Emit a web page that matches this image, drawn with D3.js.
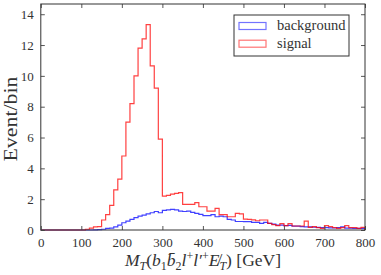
<!DOCTYPE html>
<html><head><meta charset="utf-8">
<script src="https://cdn.jsdelivr.net/npm/d3@7"></script>
<style>
html,body{margin:0;padding:0;background:#fff;}
svg{display:block;}
</style></head>
<body>
<svg id="chart" width="381" height="275"></svg>
<script>
// Histogram bins: 10 GeV wide, 0..800 GeV
const binEdges = d3.range(0, 801, 10);
const seriesNames = ["background", "signal"];
const background = [
  0,0,0,0,0,0,0,0,0,0,0,0,0,
  0.01,0.03,0.05,0.10,0.12,0.20,0.32,0.47,0.58,0.69,0.80,0.90,0.97,1.04,1.12,1.20,1.12,
  1.27,1.30,1.34,1.30,1.23,1.20,1.23,1.15,1.08,1.02,0.93,0.93,1.00,0.86,0.90,0.86,0.69,0.65,0.55,0.55,
  0.54,0.54,0.50,0.50,0.43,0.50,0.43,0.38,0.32,0.32,0.28,0.30,0.25,0.25,0.22,0.20,0.20,0.18,0.17,0.15,
  0.15,0.14,0.13,0.15,0.20,0.12,0.12,0.10,0.10,0.10
];
const signal = [
  0,0,0,0,0,0,0,0,0,0,0,
  0.05,0.12,0.20,0.22,0.65,1.00,1.60,2.60,3.30,
  4.80,7.00,8.20,10.00,11.80,12.40,13.33,10.65,9.20,5.90,
  2.20,2.25,2.33,2.38,2.42,1.66,1.66,1.66,1.77,1.51,
  1.51,1.23,1.23,1.40,1.00,1.00,0.86,0.86,1.08,1.05,
  0.70,0.69,0.66,0.60,0.65,0.65,0.43,0.35,0.28,0.41,
  0.28,0.41,0.26,0.26,0.26,0.58,0.17,0.22,0.15,0.11,
  0.28,0.22,0.15,0.11,0.15,0.28,0.15,0.15,0.11,0.17
];
const xTicks = [0,100,200,300,400,500,600,700,800];
const yTicks = [0,2,4,6,8,10,12,14];
const colors = {background: "#0000ff", signal: "#ff0000"};

(function () {
const svg = d3.select("#chart");
const pL = 40.8, pR = 365, pT = 4, pB = 230;
const yMax = 1.1 * d3.max(signal);
const x = d3.scaleLinear().domain([0, 800]).range([pL, pR]);
const y = d3.scaleLinear().domain([0, yMax]).range([pB, pT]);

const textColor = "#333";
const font = "'Liberation Serif','DejaVu Serif',serif";

function stepPoints(vals) {
  const pts = [[binEdges[0], 0]];
  vals.forEach((v, i) => { pts.push([binEdges[i], v]); pts.push([binEdges[i+1], v]); });
  pts.push([binEdges[binEdges.length-1], 0]);
  return pts;
}
const line = d3.line().x(d => x(d[0])).y(d => y(d[1]));

const plot = svg.append("g");
plot.append("path").attr("d", line(stepPoints(background)))
  .attr("fill", "none").attr("stroke", colors.background).attr("stroke-opacity", 0.75).attr("stroke-width", 1.2);
plot.append("path").attr("d", line(stepPoints(signal)))
  .attr("fill", "none").attr("stroke", colors.signal).attr("stroke-opacity", 0.75).attr("stroke-width", 1.2);

const axB = svg.append("g").attr("transform", `translate(0,${pB})`)
  .call(d3.axisBottom(x).tickValues(xTicks).tickSize(-4).tickPadding(8).tickFormat(d3.format("d")));
const axT = svg.append("g").attr("transform", `translate(0,${pT})`)
  .call(d3.axisTop(x).tickValues(xTicks).tickSize(-4).tickFormat(""));
const axL = svg.append("g").attr("transform", `translate(${pL},0)`)
  .call(d3.axisLeft(y).tickValues(yTicks).tickSize(-4).tickPadding(7).tickFormat(d3.format("d")));
const axR = svg.append("g").attr("transform", `translate(${pR},0)`)
  .call(d3.axisRight(y).tickValues(yTicks).tickSize(-4).tickFormat(""));
[axB, axT, axL, axR].forEach(a => {
  a.select(".domain").remove();
  a.selectAll(".tick line").attr("stroke", "#555").attr("stroke-width", 1);
  a.selectAll("text").attr("font-family", font).attr("font-size", 13).attr("fill", textColor);
});
svg.append("rect").attr("x", pL).attr("y", pT).attr("width", pR-pL).attr("height", pB-pT)
  .attr("fill", "none").attr("stroke", "#333").attr("stroke-width", 1);

svg.append("text").attr("transform", `translate(17,${(pT+pB)/2 + 2}) rotate(-90)`)
  .attr("text-anchor", "middle").attr("font-family", font).attr("font-size", 18)
  .attr("fill", textColor).attr("textLength", 85).attr("lengthAdjust", "spacingAndGlyphs")
  .text("Event/bin");

const xl = svg.append("text").attr("x", 203).attr("y", 266).attr("text-anchor", "middle")
  .attr("font-family", font).attr("font-size", 17.5).attr("fill", textColor);
const big = 17.5, small = 12;
const parts = [
  ["M", true, 0, big], ["T", true, 3.5, small], ["(", false, -3.5, big], ["b", true, 0, big], ["1", false, 3.5, small],
  ["b\u0304", true, -3.5, big], ["2", false, 3.5, small], ["l", true, -3.5, big], ["+", false, -6, small],
  ["l\u2032", true, 6, big], ["+", false, -6, small], ["E\u0338", true, 6, big], ["T", true, 3.5, small],
  [") [GeV]", false, -3.5, big]
];
parts.forEach(p => {
  xl.append("tspan").attr("dy", p[2]).attr("font-style", p[1] ? "italic" : "normal")
    .attr("font-size", p[3]).text(p[0]);
});

const lg = svg.append("g");
lg.append("rect").attr("x", 234).attr("y", 15).attr("width", 115).attr("height", 41)
  .attr("fill", "#fff").attr("stroke", "#333").attr("stroke-width", 1);
seriesNames.forEach((n, i) => {
  const yy = 22.5 + i * 17.7;
  lg.append("rect").attr("x", 239).attr("y", yy).attr("width", 27).attr("height", 7)
    .attr("fill", "none").attr("stroke", colors[n]).attr("stroke-opacity", 0.55).attr("stroke-width", 1.2);
  lg.append("text").attr("x", 277).attr("y", yy + 7.5).attr("font-family", font).attr("font-size", 14.5)
    .attr("fill", textColor).text(n);
});
})();
</script>
</body></html>
